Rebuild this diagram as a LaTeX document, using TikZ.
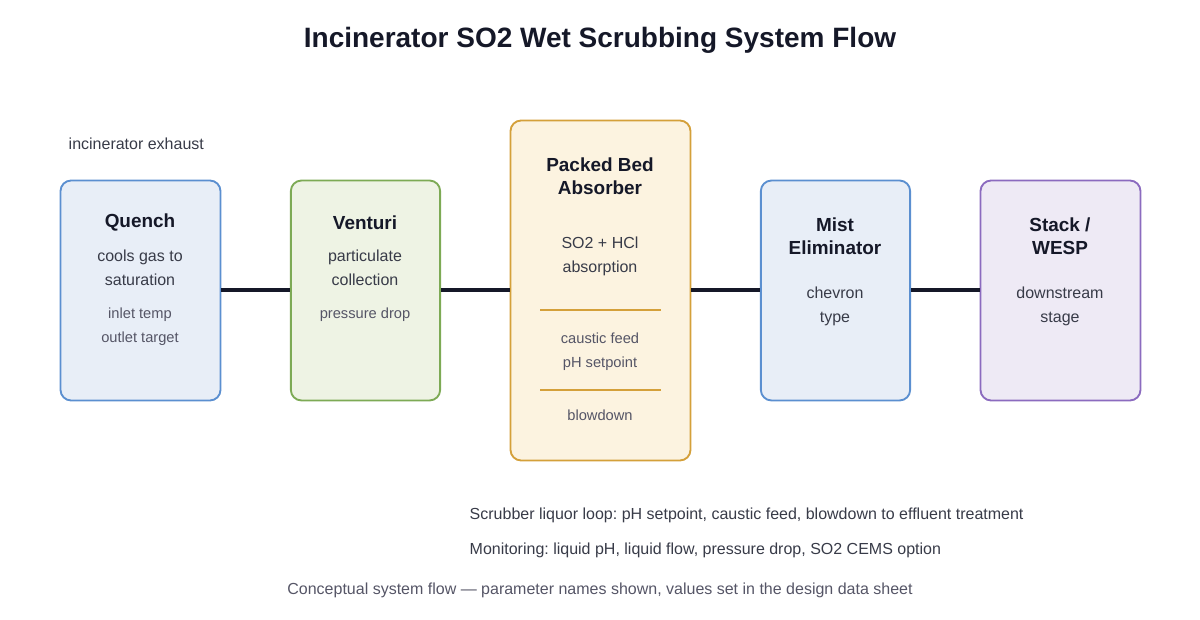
\documentclass[tikz,border=0pt]{standalone}
\usepackage{fontspec}
\setmainfont{Liberation Sans}
\usetikzlibrary{positioning}
\definecolor{ink}{HTML}{151828}
\definecolor{grey}{HTML}{555566}
\definecolor{bluefill}{HTML}{E8EEF7}
\definecolor{blueline}{HTML}{5B8FD0}
\definecolor{greenfill}{HTML}{EEF3E4}
\definecolor{greenline}{HTML}{7DAA55}
\definecolor{orangefill}{HTML}{FCF3E0}
\definecolor{orangeline}{HTML}{D4A03A}
\definecolor{purplefill}{HTML}{EEEAF5}
\definecolor{purpleline}{HTML}{8B6BBF}
\tikzset{
  unit/.style = {rounded corners = 8pt, line width = 1.4pt},
  head/.style = {font = \fontsize{14.2}{17.5}\selectfont\bfseries, text = ink, align = center},
  body/.style = {font = \fontsize{12}{18}\selectfont, text = ink!85, align = center},
  note/.style = {font = \fontsize{11}{18}\selectfont, text = grey, align = center},
  pipe/.style = {ink, line width = 3pt}
}
\frenchspacing
\begin{document}
\begin{tikzpicture}[x = 0.75pt, y = -0.75pt]
            \useasboundingbox (0, 0) rectangle (1200, 620);
            % units
            \node [unit, fill = bluefill, draw = blueline, minimum width = 120pt, minimum height = 165pt] (quench) at (140.5, 290.5) {};
            \node [unit, fill = greenfill, draw = greenline, minimum width = 112pt, minimum height = 165pt] (venturi) at (365.5, 290.5) {};
            \node [unit, fill = orangefill, draw = orangeline, minimum width = 135pt, minimum height = 255pt] (absorber) at (600.5, 290.5) {};
            \node [unit, fill = bluefill, draw = blueline, minimum width = 112pt, minimum height = 165pt] (mist) at (835.5, 290.5) {};
            \node [unit, fill = purplefill, draw = purpleline, minimum width = 120pt, minimum height = 165pt] (stack) at (1060.5, 290.5) {};
            % pipes
            \draw [pipe] (quench) -- (venturi);
            \draw [pipe] (venturi) -- (absorber);
            \draw [pipe] (absorber) -- (mist);
            \draw [pipe] (mist) -- (stack);
            % dividers
            \coordinate (d1a) at (540, 310); \coordinate (d1b) at (661, 310);
            \coordinate (d2a) at (540, 390); \coordinate (d2b) at (661, 390);
            \draw [orangeline, line width = 1.2pt] (d1a) -- (d1b);
            \draw [orangeline, line width = 1.2pt] (d2a) -- (d2b);
            % texts
            \node [font = \fontsize{21}{24}\selectfont\bfseries, text = ink] (title) at (600, 40) {Incinerator SO2 Wet Scrubbing System Flow};
            \node [body, anchor = west] (exhaust) at (64, 144) {incinerator exhaust};
            \node [head] (quenchhead) at (140, 223) {Quench};
            \node [body] (quenchbody) at (140, 268) {cools gas to\\saturation};
            \node [note] (quenchnote) at (140, 327) {inlet temp\\outlet target};
            \node [head] (venturihead) at (365, 223) {Venturi};
            \node [body] (venturibody) at (365, 268) {particulate\\collection};
            \node [note] (venturinote) at (365, 315) {pressure drop};
            \node [head] (absorberhead) at (600, 176) {Packed Bed\\Absorber};
            \node [body] (absorberbody) at (600, 256) {SO2 + HCl\\absorption};
            \node [note] (absorbernote) at (600, 352) {caustic feed\\pH setpoint};
            \node [note] (blowdown) at (600, 415) {blowdown};
            \node [head] (misthead) at (835, 236) {Mist\\Eliminator};
            \node [body] (mistbody) at (835, 306) {chevron\\type};
            \node [head] (stackhead) at (1060, 236) {Stack /\\WESP};
            \node [body] (stackbody) at (1060, 306) {downstream\\stage};
            \node [body, anchor = west] (loop) at (465, 515) {Scrubber liquor loop: pH setpoint, caustic feed, blowdown to effluent treatment};
            \node [body, anchor = west] (monitor) at (465, 550) {Monitoring: liquid pH, liquid flow, pressure drop, SO2 CEMS option};
            \node [note, font = \fontsize{12}{18}\selectfont] (footer) at (600, 590) {Conceptual system flow — parameter names shown, values set in the design data sheet};
        \end{tikzpicture}
\end{document}
